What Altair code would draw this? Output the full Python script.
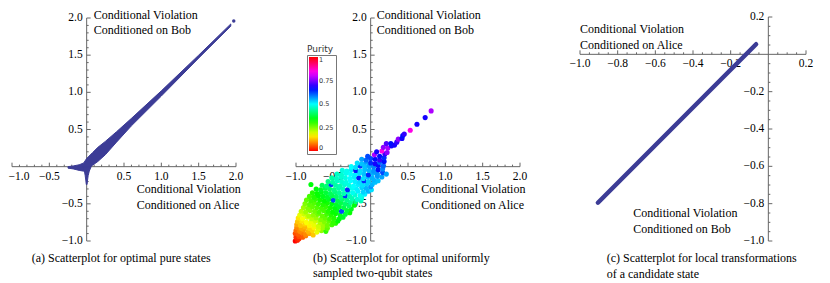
import altair as alt
import pandas as pd

# ------------------------------------------------------------------ data
# (a) optimal pure states: dense band (outline)
a_band_x = [-0.25, -0.18, -0.10, -0.04, 0.00, 0.03, 0.08, 0.15, 0.25, 0.40, 0.60, 1.00, 1.50, 1.93]
a_band_hi = [0.00, 0.01, 0.025, 0.05, 0.11, 0.14, 0.19, 0.26, 0.34, 0.47, 0.65, 1.02, 1.50, 1.92]
a_band_lo = [-0.02, -0.03, -0.05, -0.06, -0.08, -0.02, 0.02, 0.07, 0.16, 0.33, 0.55, 0.95, 1.46, 1.89]
a_spike_y = [-0.24, -0.18, -0.12, -0.06, 0.00]
a_spike_lo = [-0.005, -0.012, -0.02, -0.03, -0.05]
a_spike_hi = [0.005, 0.012, 0.02, 0.035, 0.06]
a_out_x = [1.97]
a_out_y = [1.96]

# (b) uniformly sampled two-qubit states, coloured by purity
b_x = [
    -1.01, -0.98, -0.96,
    -1.00, -0.96, -0.91, -0.87,
    -1.01, -0.97, -0.92, -0.87, -0.82, -0.77,
    -1.00, -0.95, -0.90, -0.84, -0.78, -0.72, -0.66, -0.60,
    -0.99, -0.93, -0.88, -0.82, -0.76, -0.70, -0.64, -0.58,
    -0.99, -0.94, -0.88, -0.82, -0.76, -0.70, -0.64, -0.58, -0.52, -0.47,
    -0.98, -0.92, -0.86, -0.80, -0.74, -0.68, -0.62, -0.56, -0.50, -0.44,
    -0.97, -0.91, -0.85, -0.79, -0.73, -0.67, -0.61, -0.55, -0.49, -0.42, -0.37,
    -0.95, -0.89, -0.83, -0.77, -0.71, -0.65, -0.59, -0.53, -0.47, -0.41, -0.34, -0.28,
    -0.93, -0.87, -0.81, -0.75, -0.69, -0.63, -0.57, -0.51, -0.45, -0.39, -0.32, -0.26,
    -0.90, -0.84, -0.78, -0.72, -0.66, -0.60, -0.54, -0.48, -0.42, -0.36, -0.29, -0.22,
    -0.88, -0.82, -0.76, -0.70, -0.64, -0.58, -0.52, -0.46, -0.40, -0.34, -0.27, -0.20, -0.13,
    -0.86, -0.80, -0.74, -0.68, -0.62, -0.56, -0.50, -0.44, -0.38, -0.32, -0.25, -0.18, -0.12,
    -0.82, -0.76, -0.70, -0.64, -0.58, -0.52, -0.46, -0.40, -0.34, -0.28, -0.21, -0.14, -0.08,
    -0.78, -0.72, -0.66, -0.60, -0.54, -0.48, -0.42, -0.36, -0.30, -0.24, -0.17, -0.10, -0.03, 0.01,
    -0.73, -0.67, -0.61, -0.55, -0.49, -0.43, -0.37, -0.31, -0.25, -0.19, -0.12, -0.06, 0.00,
    -0.80, -0.65, -0.59, -0.53, -0.47, -0.41, -0.35, -0.29, -0.23, -0.17, -0.11, -0.05, 0.02, 0.06,
    -0.57, -0.51, -0.45, -0.39, -0.33, -0.27, -0.21, -0.15, -0.09, -0.03, 0.04, 0.10,
    -0.52, -0.46, -0.40, -0.34, -0.28, -0.22, -0.16, -0.10, -0.04, 0.02, 0.09, 0.15,
    -0.45, -0.39, -0.33, -0.27, -0.21, -0.15, -0.09, -0.03, 0.03, 0.09, 0.16, 0.21,
    -0.38, -0.32, -0.26, -0.20, -0.14, -0.08, -0.02, 0.04, 0.10, 0.16,
    -0.26, -0.20, -0.14, -0.08, -0.02, 0.04, 0.10, 0.17,
    -0.18, -0.12, -0.06, 0.00, 0.06, 0.12, 0.18,
    -0.12, -0.06, 0.00, 0.06, 0.12, 0.18,
    -0.04, 0.05, 0.12, 0.19,
    0.08, 0.15, 0.22,
    0.17, 0.23, 0.28,
    0.21, 0.27, 0.32,
    0.35, 0.37, 0.42, 0.43, 0.45, 0.53, 0.62, 0.73, 0.81,
]
b_y = [
    -1.00, -0.99, -0.97,
    -0.95, -0.94, -0.95, -0.93,
    -0.90, -0.91, -0.89, -0.91, -0.90, -0.92,
    -0.86, -0.87, -0.85, -0.87, -0.86, -0.88, -0.86, -0.87,
    -0.82, -0.83, -0.81, -0.83, -0.82, -0.84, -0.82, -0.83,
    -0.78, -0.79, -0.77, -0.79, -0.78, -0.80, -0.78, -0.79, -0.78, -0.76,
    -0.74, -0.73, -0.75, -0.74, -0.73, -0.75, -0.74, -0.73, -0.75, -0.73,
    -0.69, -0.70, -0.68, -0.70, -0.69, -0.71, -0.69, -0.70, -0.69, -0.70, -0.68,
    -0.65, -0.64, -0.66, -0.65, -0.64, -0.66, -0.64, -0.65, -0.63, -0.65, -0.64, -0.62,
    -0.60, -0.61, -0.59, -0.60, -0.61, -0.59, -0.60, -0.61, -0.59, -0.60, -0.59, -0.57,
    -0.55, -0.56, -0.54, -0.55, -0.56, -0.54, -0.55, -0.56, -0.54, -0.55, -0.53, -0.52,
    -0.50, -0.51, -0.49, -0.50, -0.51, -0.49, -0.50, -0.51, -0.49, -0.50, -0.48, -0.47, -0.46,
    -0.45, -0.46, -0.44, -0.45, -0.46, -0.44, -0.45, -0.46, -0.44, -0.45, -0.43, -0.44, -0.42,
    -0.40, -0.41, -0.39, -0.40, -0.41, -0.39, -0.40, -0.41, -0.39, -0.40, -0.38, -0.39, -0.37,
    -0.35, -0.36, -0.34, -0.35, -0.36, -0.34, -0.35, -0.36, -0.34, -0.35, -0.33, -0.34, -0.33, -0.31,
    -0.30, -0.31, -0.29, -0.30, -0.31, -0.29, -0.30, -0.31, -0.29, -0.30, -0.28, -0.29, -0.27,
    -0.24, -0.25, -0.26, -0.24, -0.25, -0.26, -0.24, -0.25, -0.26, -0.24, -0.25, -0.23, -0.24, -0.21,
    -0.20, -0.21, -0.19, -0.20, -0.21, -0.19, -0.20, -0.21, -0.19, -0.20, -0.18, -0.19,
    -0.15, -0.16, -0.14, -0.15, -0.16, -0.14, -0.15, -0.16, -0.14, -0.15, -0.13, -0.14,
    -0.10, -0.11, -0.09, -0.10, -0.11, -0.09, -0.10, -0.11, -0.09, -0.10, -0.08, -0.10,
    -0.05, -0.06, -0.04, -0.05, -0.06, -0.04, -0.05, -0.06, -0.04, -0.03,
    0.00, -0.01, 0.01, 0.00, 0.01, 0.00, 0.02, 0.01,
    0.05, 0.04, 0.06, 0.05, 0.04, 0.06, 0.07,
    0.10, 0.09, 0.11, 0.10, 0.09, 0.12,
    0.14, 0.16, 0.14, 0.17,
    0.20, 0.21, 0.19,
    0.26, 0.25, 0.28,
    0.31, 0.31, 0.29,
    0.33, 0.37, 0.38, 0.42, 0.44, 0.49, 0.57, 0.66, 0.75,
]
b_purity = [
    0.00, 0.02, 0.03,
    0.03, 0.05, 0.06, 0.08,
    0.05, 0.06, 0.08, 0.09, 0.11, 0.13,
    0.07, 0.09, 0.10, 0.12, 0.14, 0.18, 0.24, 0.30,
    0.09, 0.11, 0.12, 0.14, 0.16, 0.19, 0.23, 0.27,
    0.11, 0.13, 0.14, 0.16, 0.18, 0.20, 0.23, 0.26, 0.29, 0.31,
    0.13, 0.15, 0.17, 0.18, 0.20, 0.22, 0.25, 0.27, 0.30, 0.33,
    0.15, 0.17, 0.19, 0.21, 0.23, 0.25, 0.27, 0.29, 0.31, 0.34, 0.36,
    0.18, 0.20, 0.22, 0.24, 0.26, 0.27, 0.29, 0.31, 0.33, 0.35, 0.37, 0.33,
    0.21, 0.23, 0.25, 0.26, 0.28, 0.29, 0.31, 0.33, 0.35, 0.62, 0.37, 0.35,
    0.23, 0.25, 0.27, 0.28, 0.29, 0.30, 0.32, 0.34, 0.36, 0.38, 0.40, 0.34,
    0.25, 0.27, 0.28, 0.30, 0.31, 0.32, 0.34, 0.36, 0.38, 0.40, 0.43, 0.41, 0.45,
    0.27, 0.29, 0.30, 0.32, 0.33, 0.35, 0.62, 0.38, 0.40, 0.42, 0.45, 0.47, 0.48,
    0.29, 0.31, 0.33, 0.35, 0.36, 0.38, 0.40, 0.42, 0.63, 0.45, 0.47, 0.49, 0.51,
    0.31, 0.33, 0.35, 0.37, 0.39, 0.41, 0.43, 0.45, 0.47, 0.49, 0.51, 0.53, 0.55, 0.52,
    0.34, 0.36, 0.38, 0.40, 0.42, 0.44, 0.46, 0.64, 0.49, 0.51, 0.53, 0.55, 0.57,
    0.34, 0.39, 0.41, 0.63, 0.44, 0.45, 0.47, 0.48, 0.50, 0.51, 0.52, 0.53, 0.55, 0.54,
    0.42, 0.44, 0.46, 0.47, 0.48, 0.50, 0.51, 0.52, 0.64, 0.53, 0.55, 0.54,
    0.44, 0.46, 0.47, 0.48, 0.50, 0.51, 0.65, 0.52, 0.54, 0.55, 0.57, 0.56,
    0.46, 0.47, 0.49, 0.50, 0.51, 0.52, 0.54, 0.64, 0.55, 0.57, 0.62, 0.56,
    0.48, 0.49, 0.51, 0.65, 0.52, 0.54, 0.55, 0.57, 0.66, 0.58,
    0.50, 0.52, 0.63, 0.54, 0.56, 0.58, 0.66, 0.60,
    0.52, 0.54, 0.56, 0.64, 0.68, 0.60, 0.66,
    0.56, 0.60, 0.62, 0.66, 0.70, 0.64,
    0.62, 0.78, 0.66, 0.70,
    0.68, 0.85, 0.76,
    0.76, 0.78, 0.68,
    0.72, 0.66, 0.68,
    0.70, 0.76, 0.68, 0.66, 0.70, 0.85, 0.68, 0.68, 0.78,
]

# (c) local transformations of a candidate state (end points of the thick segment)
c_x = [-0.905, -0.065]
c_y = [-0.795, 0.054]

# purity colour scale (Mathematica Hue)
purity_stops = [0, 0.167, 0.333, 0.5, 0.667, 0.833, 1]
purity_colors = ["#ff0000", "#ffff00", "#00ff00", "#00ffff", "#0000ff", "#ff00ff", "#ff0000"]
purity_legend_values = [0, 0.25, 0.5, 0.75, 1]

# axes ticks / labels
ab_major = [-1.0, -0.5, 0.5, 1.0, 1.5, 2.0]
ab_major_labels = ["\u22121.0", "\u22120.5", "0.5", "1.0", "1.5", "2.0"]
ab_minor = [-0.9, -0.8, -0.7, -0.6, -0.4, -0.3, -0.2, -0.1, 0.1, 0.2, 0.3, 0.4,
            0.6, 0.7, 0.8, 0.9, 1.1, 1.2, 1.3, 1.4, 1.6, 1.7, 1.8, 1.9]
c_major = [-1.0, -0.8, -0.6, -0.4, -0.2, 0.2]
c_major_labels = ["\u22121.0", "\u22120.8", "\u22120.6", "\u22120.4", "\u22120.2", "0.2"]
c_minor = [-0.95, -0.9, -0.85, -0.75, -0.7, -0.65, -0.55, -0.5, -0.45, -0.35, -0.3, -0.25,
           -0.15, -0.1, -0.05, 0.05, 0.1, 0.15]

LBL_BOB = "Conditional Violation\nConditioned on Bob"
LBL_ALICE = "Conditional Violation\nConditioned on Alice"
cap_a = "(a) Scatterplot for optimal pure states"
cap_b = "(b) Scatterplot for optimal uniformly\nsampled two-qubit states"
cap_c = "(c) Scatterplot for local transformations\nof a candidate state"

# ------------------------------------------------------------------ style / layout
SERIF = "Liberation Serif"
SANS = "DejaVu Sans"
AXIS_COLOR = "#666666"
BLUE = "#3c3c96"
# pixel ranges of the three plot frames inside the drawing group
A_XR, A_YR = [4, 228], [233, 10]
B_XR, B_YR = [288, 512], [233, 10]
C_XR, C_YR = [572, 798], [233, 9]


def make_panel(xdom, ydom, xr, yr, data_layers, major, major_labels, minor,
               bob, alice, caption, first_xlabel_dx=0, bob_line_height=15.5):
    xs = alt.Scale(domain=xdom, range=xr, nice=False, zero=False)
    ys = alt.Scale(domain=ydom, range=yr, nice=False, zero=False)

    def X(f):
        return alt.X(f"{f}:Q", scale=xs, axis=None)

    def Y(f):
        return alt.Y(f"{f}:Q", scale=ys, axis=None)

    axes = pd.DataFrame({"x": [xdom[0], 0], "x2": [xdom[1], 0],
                         "y": [0, ydom[0]], "y2": [0, ydom[1]]})
    axis_lines = alt.Chart(axes).mark_rule(color=AXIS_COLOR, strokeWidth=1).encode(
        x=X("x"), x2="x2:Q", y=Y("y"), y2="y2:Q")

    xmaj = pd.DataFrame({"v": major, "z": [0] * len(major), "t": major_labels})
    xmin = pd.DataFrame({"v": minor, "z": [0] * len(minor)})

    xt_major = alt.Chart(xmaj).mark_rule(color=AXIS_COLOR, y2Offset=-4).encode(
        x=X("v"), y=Y("z"), y2="z:Q")
    xt_minor = alt.Chart(xmin).mark_rule(color=AXIS_COLOR, y2Offset=-2).encode(
        x=X("v"), y=Y("z"), y2="z:Q")
    yt_major = alt.Chart(xmaj).mark_rule(color=AXIS_COLOR, x2Offset=4).encode(
        y=Y("v"), x=X("z"), x2="z:Q")
    yt_minor = alt.Chart(xmin).mark_rule(color=AXIS_COLOR, x2Offset=2).encode(
        y=Y("v"), x=X("z"), x2="z:Q")

    xlabels_first = alt.Chart(xmaj.iloc[:1]).mark_text(
        font=SERIF, fontSize=11.5, dy=10, dx=first_xlabel_dx, align="center",
        baseline="middle", color="black").encode(x=X("v"), y=Y("z"), text="t:N")
    xlabels = alt.Chart(xmaj.iloc[1:]).mark_text(font=SERIF, fontSize=11.5, dy=10, align="center",
                                                 baseline="middle", color="black").encode(
        x=X("v"), y=Y("z"), text="t:N")
    ylabels = alt.Chart(xmaj).mark_text(font=SERIF, fontSize=11.5, dx=-4, align="right",
                                        baseline="middle", color="black").encode(
        y=Y("v"), x=X("z"), text="t:N")

    def label(spec, txt, lh=15.5):
        ax, ay, dx, dy = spec
        df = pd.DataFrame({"x": [ax], "y": [ay], "t": [txt]})
        return alt.Chart(df).mark_text(font=SERIF, fontSize=12, align="left",
                                       baseline="alphabetic", dx=dx, dy=dy,
                                       lineBreak="\n", lineHeight=lh,
                                       color="black").encode(
            x=X("x"), y=Y("y"), text="t:N")

    layers = [axis_lines, xt_major, xt_minor, yt_major, yt_minor,
              xlabels_first, xlabels, ylabels]
    layers += [f(X, Y) for f in data_layers]
    layers += [label(bob, LBL_BOB, bob_line_height), label(alice, LBL_ALICE),
               label(caption[0], caption[1])]
    return alt.layer(*layers)


# ---- panel (a)
def a_band(X, Y):
    df = pd.DataFrame({"x": a_band_x, "hi": a_band_hi, "lo": a_band_lo})
    return alt.Chart(df).mark_area(orient="vertical", color=BLUE, stroke=BLUE,
                                   strokeWidth=1).encode(x=X("x"), y=Y("hi"), y2="lo:Q")


def a_spike(X, Y):
    df = pd.DataFrame({"y": a_spike_y, "lo": a_spike_lo, "hi": a_spike_hi})
    return alt.Chart(df).mark_area(orient="horizontal", color=BLUE, stroke=BLUE,
                                   strokeWidth=1).encode(y=Y("y"), x=X("lo"), x2="hi:Q")


def a_out(X, Y):
    df = pd.DataFrame({"x": a_out_x, "y": a_out_y})
    return alt.Chart(df).mark_circle(size=12, color=BLUE, opacity=1).encode(
        x=X("x"), y=Y("y"))


panel_a = make_panel([-1, 2], [-1, 2], A_XR, A_YR, [a_band, a_spike, a_out],
                     ab_major, ab_major_labels, ab_minor,
                     (0, 2.0, 7, 1), (0, 0, 50, 26.5),
                     ((-1, -1, 19.7, 20.5), cap_a), first_xlabel_dx=7,
                     bob_line_height=14.5)


# ---- panel (b)
def b_points(X, Y):
    df = pd.DataFrame({"x": b_x, "y": b_y, "p": b_purity})
    return alt.Chart(df).mark_circle(size=26, opacity=1).encode(
        x=X("x"), y=Y("y"),
        color=alt.Color("p:Q",
                        scale=alt.Scale(domain=purity_stops, range=purity_colors,
                                        interpolate="rgb"),
                        legend=alt.Legend(orient="none", legendX=299, legendY=47,
                                          direction="vertical", title=None,
                                          gradientLength=94, gradientThickness=9,
                                          gradientStrokeWidth=0,
                                          values=purity_legend_values, format=".2~f",
                                          labelFont=SANS, labelFontSize=6.5,
                                          labelOffset=1, labelOverlap=False,
                                          labelColor="#333333",
                                          strokeColor="#777777", padding=2)))


def b_title(X, Y):
    df = pd.DataFrame({"t": ["Purity"]})
    return alt.Chart(df).mark_text(font=SANS, fontSize=9, align="center",
                                   baseline="alphabetic", color="#333333").encode(
        x=alt.value(312), y=alt.value(44), text="t:N")


panel_b = make_panel([-1, 2], [-1, 2], B_XR, B_YR, [b_points, b_title],
                     ab_major, ab_major_labels, ab_minor,
                     (0, 2.0, 6, 1), (0, 0, 50.7, 26.5),
                     ((-1, -1, 17, 20.5), cap_b), bob_line_height=14.5)


# ---- panel (c)
def c_line(X, Y):
    df = pd.DataFrame({"x": c_x, "y": c_y})
    return alt.Chart(df).mark_line(color=BLUE, strokeWidth=4.5, strokeCap="round").encode(
        x=X("x"), y=Y("y"))


panel_c = make_panel([-1, 0.2], [-1, 0.2], C_XR, C_YR, [c_line],
                     c_major, c_major_labels, c_minor,
                     (0, -1.0, -135, -24), (-1.0, 0, 0, -21.3),
                     ((-1, -1, 26.7, 21), cap_c))

chart = alt.layer(panel_a, panel_b, panel_c).resolve_scale(
    x="independent", y="independent"
).properties(
    width=814, height=275,
    autosize=alt.AutoSizeParams(type="none"),
    padding=0,
).configure_view(stroke=None)

chart.save("out.html", embed_options={"renderer": "svg", "actions": False})
